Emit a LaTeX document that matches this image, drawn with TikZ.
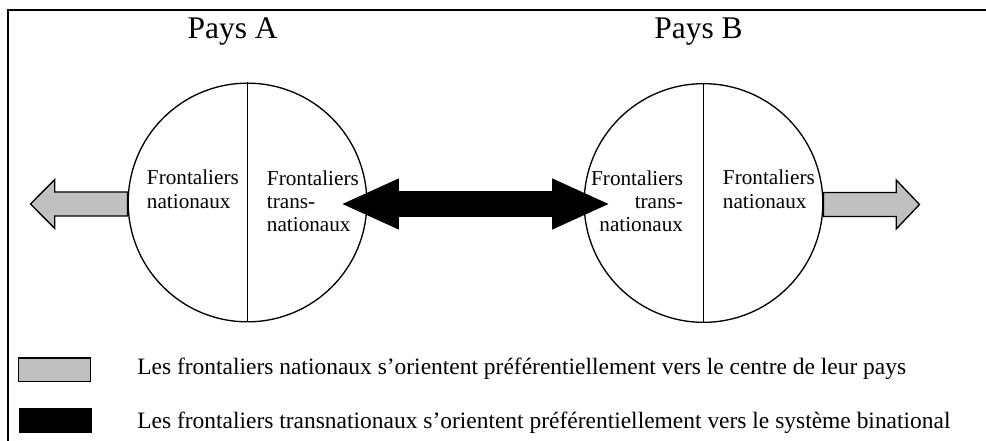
\documentclass[tikz,border=0pt]{standalone}
\usepackage{fontspec}
\setmainfont{Liberation Serif}
\usetikzlibrary{positioning,calc}
\definecolor{NatGray}{HTML}{C0C0C0}

\begin{document}
\begin{tikzpicture}[x=0.75pt,y=-0.75pt,
  pays/.style={font=\fontsize{23.6}{28}\selectfont, anchor=base, inner sep=0pt},
  zone/.style={circle, draw, line width=1pt, minimum size=179pt, inner sep=0pt},
  lbl/.style={font=\fontsize{15.9}{17.5}\selectfont, inner sep=0pt},
  legtext/.style={font=\fontsize{17.6}{20}\selectfont, anchor=base west, inner sep=0pt},
  legbox/.style={draw, line width=1pt, minimum width=54pt, minimum height=17.5pt, inner sep=0pt},
  natarrow/.style={draw, fill=NatGray, line width=1pt, line join=miter},
  binarrow/.style={draw, fill=black, line width=0.6pt, line join=miter}]
  \useasboundingbox (0,0) rectangle (986,441);
  \clip (0,0) rectangle (986,441);
  % frame, right and bottom sides fall off the page
  \draw[line width=1.5pt] (8,10) rectangle (1000,460);

  % the two countries
  \node[pays] (pA) at (232.6,39) {Pays A};
  \node[pays] (pB) at (698.5,39) {Pays B};
  \node[zone] (cA) at (247.5,202.5) {};
  \node[zone] (cB) at (703.5,203) {};
  \draw[line width=1pt] (cA.north) -- (cA.south);
  \draw[line width=1pt] (cB.north) -- (cB.south);

  % labels of the halves (base = last line)
  \node[lbl, align=left, anchor=base west] (natA) at (146.7,208.3) {Frontaliers\\nationaux};
  \node[lbl, align=left, anchor=base west] (trA) at (266.7,232) {Frontaliers\\trans-\\nationaux};
  \node[lbl, align=right, anchor=base east] (trB) at (683.3,232) {Frontaliers\\trans-\\nationaux};
  \node[lbl, align=left, anchor=base west] (natB) at (722.7,208.3) {Frontaliers\\nationaux};

  % national arrows, towards the centre of each country
  \coordinate (gA) at ($(cA.west)+(0,1.5)$);
  \coordinate (gB) at ($(cB.east)+(0,1.5)$);
  \draw[natarrow] ($(gA)+(0,-12)$) -- ++(-72.7,0) -- ++(0,-12.5) -- ++(-24.3,24.5)
    -- ++(24.3,24.5) -- ++(0,-12.5) -- ($(gA)+(0,12)$) -- cycle;
  \draw[natarrow] ($(gB)+(0,-12)$) -- ++(72.7,0) -- ++(0,-12.5) -- ++(23.3,24.5)
    -- ++(-23.3,24.5) -- ++(0,-12.5) -- ($(gB)+(0,12)$) -- cycle;

  % binational arrow
  \coordinate (tL) at ($(cA.east)+(-24,1.5)$);
  \coordinate (tR) at ($(cB.west)+(24,1)$);
  \draw[binarrow] (tL) -- ++(55,-25) -- ++(0,12.5) -- ($(tR)+(-55,-12.5)$) -- ++(0,-12.5)
    -- (tR) -- ++(-55,25) -- ++(0,-12.5) -- ($(tL)+(55,12.5)$) -- ++(0,12.5) -- cycle;

  % legend
  \node[legbox, fill=NatGray] (keyN) at (54.5,369.7) {};
  \node[legbox, fill=black] (keyT) at (55.5,420.5) {};
  \node[legtext] (txtN) at (137,375) {Les frontaliers nationaux s’orientent préférentiellement vers le centre de leur pays};
  \node[legtext] (txtT) at (137,428.3) {Les frontaliers transnationaux s’orientent préférentiellement vers le système binational};
\end{tikzpicture}
\end{document}
